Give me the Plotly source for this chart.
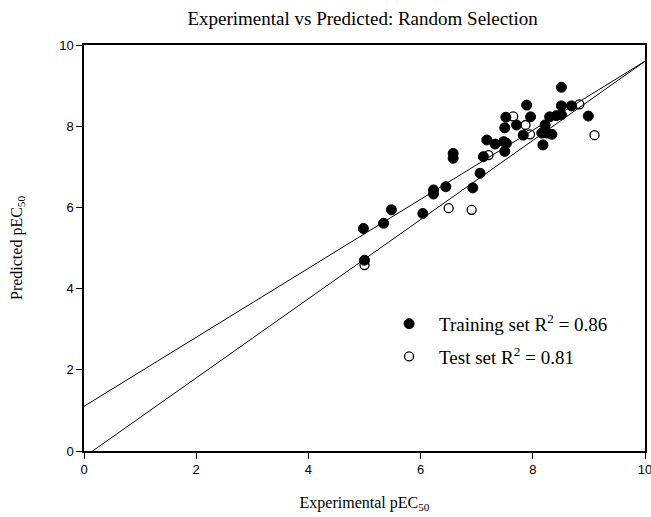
import plotly.graph_objects as go

# Training set (filled markers)
train_x = [4.98, 5.00, 5.34, 5.48, 6.04, 6.23, 6.23, 6.45, 6.58, 6.58, 6.93, 7.06,
           7.12, 7.18, 7.33, 7.48, 7.53, 7.50, 7.50, 7.52, 7.71, 7.83, 7.89, 7.96,
           8.16, 8.22, 8.25, 8.34, 8.18, 8.30, 8.42, 8.51, 8.51, 8.51, 8.69, 8.99]
train_y = [5.48, 4.70, 5.61, 5.94, 5.85, 6.43, 6.33, 6.51, 7.33, 7.21, 6.48, 6.84,
           7.25, 7.66, 7.56, 7.62, 7.58, 7.38, 7.96, 8.22, 8.03, 7.78, 8.52, 8.23,
           7.83, 8.03, 7.83, 7.80, 7.54, 8.23, 8.26, 8.28, 8.50, 8.96, 8.50, 8.25]

# Test set (open markers)
test_x = [5.00, 6.50, 6.91, 7.21, 7.65, 7.87, 7.95, 8.83, 9.10]
test_y = [4.58, 5.98, 5.94, 7.29, 8.24, 8.03, 7.80, 8.54, 7.78]

# Regression lines (endpoints along x)
line_x = [0, 10]
train_fit = [1.10, 9.60]
test_fit = [-0.15, 9.60]

tick_vals = [0, 2, 4, 6, 8, 10]
tick_text = ["0", "2", "4", "6", "8", "10"]

serif = "Liberation Serif, Times New Roman, serif"
sans = "Liberation Sans, Arial, sans-serif"

fig = go.Figure()
fig.add_trace(go.Scatter(x=line_x, y=train_fit, mode="lines",
                         line=dict(color="black", width=1), showlegend=False, hoverinfo="skip"))
fig.add_trace(go.Scatter(x=line_x, y=test_fit, mode="lines",
                         line=dict(color="black", width=1), showlegend=False, hoverinfo="skip"))
fig.add_trace(go.Scatter(x=train_x, y=train_y, mode="markers", legendgroup="train",
                         name="Training set R<sup>2</sup> = 0.86",
                         marker=dict(symbol="circle", size=10, color="black",
                                     line=dict(color="black", width=1))))
fig.add_trace(go.Scatter(x=test_x, y=test_y, mode="markers", legendgroup="test",
                         name="Test set R<sup>2</sup> = 0.81",
                         marker=dict(symbol="circle-open", size=9, color="black",
                                     line=dict(color="black", width=1.3))))

fig.update_layout(
    width=651, height=517,
    margin=dict(l=84, r=6, t=45, b=66, autoexpand=False),
    paper_bgcolor="white", plot_bgcolor="white",
    title=dict(text="Experimental vs Predicted: Random Selection",
               x=0.557, xanchor="center", y=0.965, yanchor="middle",
               font=dict(family=serif, size=19, color="black")),
    showlegend=True,
    legend=dict(x=0.526, y=0.36, xanchor="left", yanchor="top",
                bgcolor="rgba(0,0,0,0)", itemwidth=50, tracegroupgap=5,
                font=dict(family=serif, size=19, color="black")),
    xaxis=dict(range=[0, 10], tickvals=tick_vals, ticktext=tick_text,
               showgrid=False, zeroline=False, showline=True, linecolor="black",
               linewidth=1.5, mirror=True, ticks="outside", ticklen=6,
               tickcolor="black", tickwidth=1.2, automargin=False,
               ticklabeloverflow="allow",
               tickfont=dict(family=sans, size=13, color="black"),
               title=dict(text="Experimental pEC<sub>50</sub>", standoff=20,
                          font=dict(family=serif, size=16, color="black"))),
    yaxis=dict(range=[0, 10], tickvals=tick_vals, ticktext=tick_text,
               showgrid=False, zeroline=False, showline=True, linecolor="black",
               linewidth=1.5, mirror=True, ticks="outside", ticklen=6,
               tickcolor="black", tickwidth=1.2, automargin=False,
               tickfont=dict(family=sans, size=13, color="black"),
               title=dict(text="Predicted pEC<sub>50</sub>", standoff=33,
                          font=dict(family=serif, size=16, color="black"))),
)

fig.write_html("out.html", config={"displayModeBar": False},
               post_script="document.body.style.margin='0';document.body.style.overflow='hidden';")
